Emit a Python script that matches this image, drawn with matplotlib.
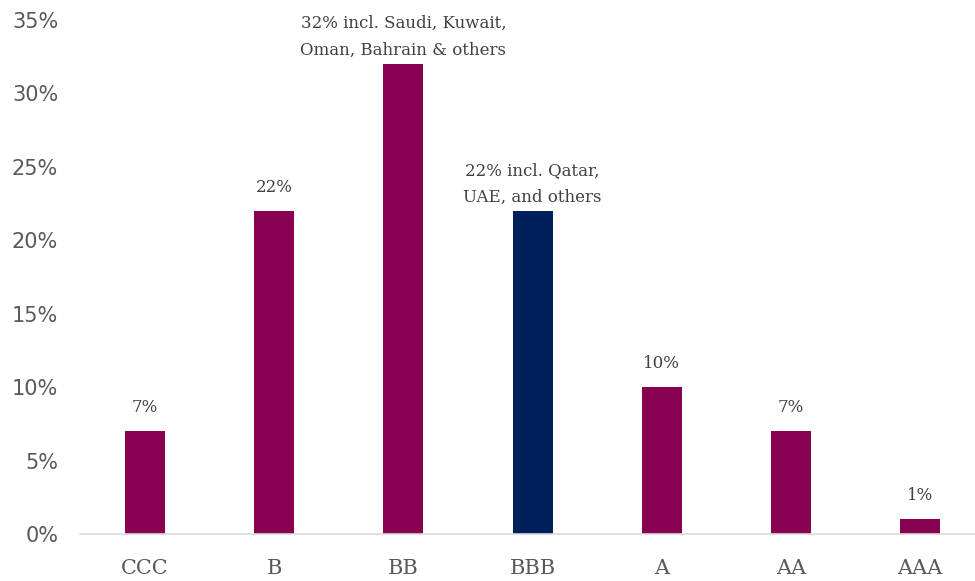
import matplotlib
matplotlib.use("Agg")
import matplotlib.pyplot as plt
from matplotlib.ticker import FuncFormatter

categories = ["CCC", "B", "BB", "BBB", "A", "AA", "AAA"]
values = [7, 22, 32, 22, 10, 7, 1]
labels = ["7%", "22%", "32% incl. Saudi, Kuwait,\nOman, Bahrain & others",
          "22% incl. Qatar,\nUAE, and others", "10%", "7%", "1%"]
highlight = "BBB"

magenta = "#880050"
navy = "#00205B"
colors = [navy if c == highlight else magenta for c in categories]

fig = plt.figure(figsize=(9.75, 5.81), dpi=100)
ax = fig.add_axes([0.0825, 0.081, 0.9275, 0.8845])
x = range(len(categories))
bars = ax.bar(x, values, width=0.31, color=colors)
ax.set_xlim(-0.5, len(categories) - 0.5)
ax.set_ylim(0, 35)
ax.set_yticks(range(0, 36, 5))
ax.yaxis.set_major_formatter(FuncFormatter(lambda v, p: f"{int(v)}%"))
for s in ["top", "right", "left"]:
    ax.spines[s].set_visible(False)
ax.spines["bottom"].set_color("#d9d9d9")
ax.spines["bottom"].set_linewidth(1.2)
ax.tick_params(axis="both", length=0)
ax.tick_params(axis="y", labelsize=15, labelcolor="#595959", pad=16)
for t in ax.get_yticklabels():
    t.set_family("DejaVu Sans")
ax.set_xticks(list(x))
ax.set_xticklabels(categories, family="DejaVu Serif", fontsize=15, color="#595959")
ax.tick_params(axis="x", pad=18)

for xi, v, lab in zip(x, values, labels):
    off = 4 if "\n" in lab else 11
    ax.annotate(lab, (xi, v), xytext=(0, off), textcoords="offset points",
                ha="center", va="bottom", family="DejaVu Serif", fontsize=12,
                color="#404040", linespacing=1.72, annotation_clip=False)

fig.savefig("out.png", dpi=100)
